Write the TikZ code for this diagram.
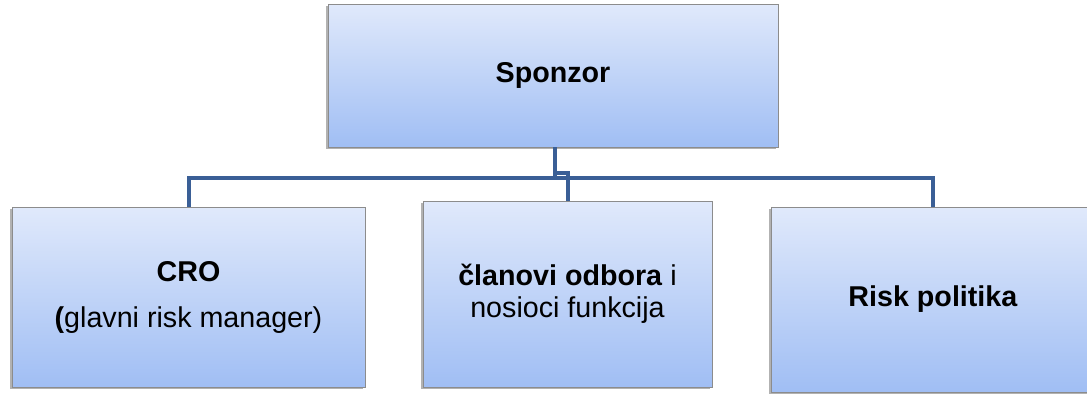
\documentclass[tikz,border=0pt]{standalone}
\usepackage{fontspec}
\setmainfont{Liberation Sans}
\usetikzlibrary{shadows}
\definecolor{boxtop}{RGB}{224,233,251}
\definecolor{boxbot}{RGB}{160,190,244}
\definecolor{boxline}{RGB}{140,140,140}
\definecolor{linkblue}{RGB}{58,95,150}
\tikzset{
  orgbox/.style={rectangle, draw=boxline, line width=0.6pt,
    top color=boxtop, bottom color=boxbot,
    general shadow={fill=black!30, shadow xshift=-1.5pt, shadow yshift=-1.6pt},
    inner sep=0pt, align=center,
    font=\fontsize{21.5}{24}\selectfont},
  link/.style={draw=linkblue, line width=3pt}
}
\begin{document}
\begin{tikzpicture}[x=0.75pt,y=-0.75pt]
\useasboundingbox (0,0) rectangle (1087,394);
% parent
\node[orgbox, minimum width=450*0.75pt, minimum height=143*0.75pt] (sp) at (553,75.5) {\textbf{Sponzor}};
% children
\node[orgbox, minimum width=353*0.75pt, minimum height=180*0.75pt] (cro) at (188.5,297) {\textbf{CRO}\\[10.5pt]\textbf{(}glavni risk manager)};
\node[orgbox, minimum width=289*0.75pt, minimum height=186*0.75pt] (clan) at (567.5,294) {\textbf{članovi odbora} i\\nosioci funkcija};
\node[orgbox, minimum width=324*0.75pt, minimum height=185*0.75pt] (rp) at (933,299.5) {\textbf{Risk politika}};
% connectors
\coordinate (bar) at (555,178);
\coordinate (jog) at (555,173);
\draw[link] (sp.south -| bar) -- (bar);
\draw[link] (cro.north) |- (bar) -| (rp.north);
\draw[link] (jog) -| (clan.north);
\end{tikzpicture}
\end{document}
